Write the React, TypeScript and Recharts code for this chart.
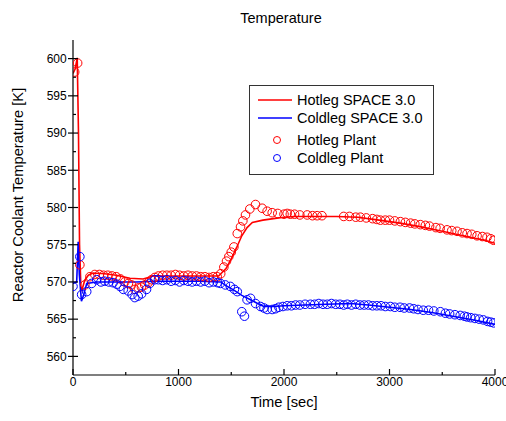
import { ComposedChart, Line, Scatter, XAxis, YAxis } from "recharts";

// axis ticks (minor ticks every 500 s / 2.5 K, labels only on the majors)
const xTicks = [0, 500, 1000, 1500, 2000, 2500, 3000, 3500, 4000];
const xLabels = [0, 1000, 2000, 3000, 4000];
const yTicks = [560, 562.5, 565, 567.5, 570, 572.5, 575, 577.5, 580, 582.5, 585, 587.5, 590, 592.5, 595, 597.5, 600];
const yLabels = [560, 565, 570, 575, 580, 585, 590, 595, 600];

// [time s, temperature K]
const hotlegSpace: [number, number][] = [
  [0, 598], [20, 598.6], [40, 600.1], [52, 590], [62, 575], [75, 569.2], [85, 568.9], [110, 570.2],
  [145, 570.9], [190, 571.2], [300, 571.1], [410, 570.9], [540, 570.5], [665, 570.4], [760, 570.8],
  [900, 570.8], [1000, 570.8], [1100, 570.8], [1200, 570.8], [1300, 570.8], [1380, 570.8],
  [1450, 571.8], [1500, 573.1], [1550, 574.6], [1600, 576.2], [1650, 577.3], [1700, 578.0],
  [1800, 578.3], [1900, 578.5], [2000, 578.7], [2100, 578.8], [2300, 578.8], [2500, 578.8],
  [2700, 578.7], [2900, 578.3], [3100, 577.9], [3300, 577.4], [3500, 576.8], [3700, 576.2],
  [3900, 575.6], [4000, 575.2],
];

const coldlegSpace: [number, number][] = [
  [0, 569.8], [35, 570], [49, 575.4], [60, 571], [80, 567.4], [100, 568.2], [130, 569.8], [222, 570],
  [400, 570.0], [600, 570.0], [800, 570.1], [1000, 570.1], [1200, 570.1], [1400, 570.0], [1450, 569.5],
  [1525, 568.9], [1600, 568.2], [1683, 567.6], [1750, 567.1], [1809, 566.7], [1900, 566.7],
  [2000, 566.8], [2200, 566.9], [2400, 567.0], [2630, 567.1], [2800, 566.9], [3000, 566.6],
  [3200, 566.3], [3400, 565.9], [3600, 565.4], [3800, 564.9], [4000, 564.3],
];

const hotlegPlant: [number, number][] = [
  [16, 598.2], [44, 599.4], [65, 572.3], [112, 569.6], [160, 570.7], [207, 571.0], [250, 571.0],
  [290, 570.9], [330, 570.9], [370, 570.8], [410, 570.7], [450, 570.4], [490, 570.0], [525, 569.8],
  [555, 569.6], [586, 569.0], [620, 569.2], [649, 569.3], [680, 569.6], [713, 569.9], [745, 570.3],
  [775, 570.6], [810, 570.8], [850, 570.9], [890, 570.9], [930, 570.9], [970, 571.0], [1010, 570.9],
  [1050, 570.8], [1090, 570.9], [1130, 570.8], [1170, 570.8], [1210, 570.7], [1250, 570.7],
  [1290, 570.6], [1330, 570.7], [1367, 570.7], [1400, 571.1], [1430, 572.0], [1455, 572.8],
  [1477, 573.4], [1500, 574.0], [1525, 574.7], [1557, 576.5], [1588, 577.4], [1610, 578.2],
  [1635, 579.0], [1676, 579.8], [1730, 580.4], [1793, 579.9], [1840, 579.5], [1888, 579.3],
  [1941, 579.2], [2000, 579.1], [2030, 579.2], [2060, 579.1], [2100, 579.1], [2150, 579.0],
  [2220, 579.0], [2270, 578.9], [2314, 578.9], [2360, 578.9], [2566, 578.8], [2620, 578.8],
  [2680, 578.7], [2724, 578.7], [2780, 578.6], [2840, 578.5], [2880, 578.4], [2914, 578.3],
  [2960, 578.3], [3000, 578.3], [3050, 578.2], [3103, 578.1], [3150, 578.0], [3200, 577.9],
  [3240, 577.8], [3292, 577.7], [3340, 577.6], [3380, 577.5], [3440, 577.3], [3480, 577.2],
  [3545, 577.0], [3590, 576.9], [3640, 576.8], [3690, 576.6], [3735, 576.5], [3780, 576.4],
  [3830, 576.2], [3880, 576.1], [3924, 576.0], [3960, 575.8], [3987, 575.6],
];

const coldlegPlant: [number, number][] = [
  [0, 569.4], [65, 573.4], [82, 568.3], [130, 568.7], [177, 569.8], [225, 570.3], [265, 570.0],
  [300, 570.1], [340, 570.0], [380, 569.9], [415, 569.7], [445, 569.4], [477, 569.0], [523, 568.8],
  [560, 568.3], [586, 567.9], [618, 568.1], [650, 568.4], [697, 569.0], [728, 569.8], [775, 570.3],
  [810, 570.3], [850, 570.2], [890, 570.3], [930, 570.1], [970, 570.2], [1010, 570.0], [1050, 570.2],
  [1090, 570.1], [1130, 570.0], [1170, 570.1], [1210, 570.0], [1250, 570.1], [1290, 569.9],
  [1330, 570.0], [1370, 569.9], [1397, 569.8], [1444, 569.6], [1491, 569.4], [1530, 569.0],
  [1557, 568.7], [1600, 566.0], [1625, 565.4], [1650, 567.6], [1683, 567.8], [1730, 567.1],
  [1778, 566.7], [1810, 566.5], [1840, 566.3], [1888, 566.3], [1920, 566.4], [1951, 566.6],
  [1990, 566.7], [2030, 566.8], [2070, 566.8], [2110, 566.9], [2150, 566.9], [2200, 567.0],
  [2250, 567.0], [2290, 567.0], [2330, 567.1], [2370, 567.0], [2410, 567.0], [2450, 567.1],
  [2490, 567.0], [2530, 567.0], [2566, 566.9], [2600, 567.0], [2640, 566.9], [2680, 567.0],
  [2720, 566.9], [2760, 566.9], [2800, 566.9], [2840, 566.8], [2880, 566.8], [2920, 566.8],
  [2960, 566.7], [3008, 566.7], [3050, 566.6], [3100, 566.6], [3140, 566.5], [3190, 566.5],
  [3229, 566.4], [3270, 566.3], [3320, 566.2], [3370, 566.2], [3420, 566.1], [3482, 566.0],
  [3530, 565.8], [3570, 565.7], [3620, 565.6], [3670, 565.5], [3710, 565.4], [3735, 565.3],
  [3770, 565.2], [3810, 565.1], [3850, 565.0], [3890, 564.9], [3930, 564.7], [3960, 564.6],
  [3987, 564.5],
];

const RED = "#ff0000";
const BLUE = "#0000ff";
const FONT = '"Liberation Sans", Arial, sans-serif';

const toPoints = (rows: [number, number][]) => rows.map(([t, v]) => ({ t, v }));

function BottomTick({ x, y, payload }: any) {
  const major = xLabels.includes(payload.value);
  return (
    <g>
      <line x1={x} x2={x} y1={y} y2={y - (major ? 6 : 3)} stroke="#000" strokeWidth={1.2} />
      {major && (
        <text x={x} y={y + 10.5} textAnchor="middle" fontSize={12} fontFamily={FONT} fill="#000">
          {payload.value}
        </text>
      )}
    </g>
  );
}

function TopTick({ x, y, payload }: any) {
  const major = xLabels.includes(payload.value);
  return <line x1={x} x2={x} y1={y} y2={y + (major ? 5 : 3)} stroke="#000" strokeWidth={1.2} />;
}

function LeftTick({ x, y, payload }: any) {
  const major = yLabels.includes(payload.value);
  return (
    <g>
      <line x1={major ? x - 5 : x} x2={x + (major ? 5 : 3)} y1={y} y2={y} stroke="#000" strokeWidth={1.2} />
      {major && (
        <text x={x - 6.3} y={y + 4.3} textAnchor="end" fontSize={12} fontFamily={FONT} fill="#000">
          {payload.value}
        </text>
      )}
    </g>
  );
}

function RightTick({ x, y }: any) {
  return <line x1={x - 3} x2={x} y1={y} y2={y} stroke="#000" strokeWidth={1.2} />;
}

const ring = (color: string) => (p: any) =>
  <circle cx={p.cx} cy={p.cy} r={4.3} fill="none" stroke={color} strokeWidth={1} />;

function Overlay() {
  return (
    <svg width={506} height={421} style={{ position: "absolute", left: 0, top: 0, pointerEvents: "none" }}>
      <text x={281} y={23} textAnchor="middle" fontSize={14.5} fontFamily={FONT} fill="#000">Temperature</text>
      <text x={284} y={407} textAnchor="middle" fontSize={14.7} fontFamily={FONT} fill="#000">Time [sec]</text>
      <text transform="translate(22.5,195) rotate(-90)" textAnchor="middle" fontSize={14.7} fontFamily={FONT} fill="#000">
        Reactor Coolant Temperature [K]
      </text>
      <rect x={249.5} y={85.5} width={184} height={89} fill="#fff" stroke="#333" strokeWidth={1} />
      <line x1={258} x2={292} y1={100} y2={100} stroke={RED} strokeWidth={1.5} />
      <line x1={258} x2={292} y1={118} y2={118} stroke={BLUE} strokeWidth={1.5} />
      <circle cx={277} cy={140} r={3.5} fill="none" stroke={RED} />
      <circle cx={277} cy={158} r={3.5} fill="none" stroke={BLUE} />
      <g fontSize={14.5} fontFamily={FONT} fill="#000">
        <text x={297} y={105}>Hotleg SPACE 3.0</text>
        <text x={297} y={123.3}>Coldleg SPACE 3.0</text>
        <text x={297} y={145}>Hotleg Plant</text>
        <text x={297} y={163.3}>Coldleg Plant</text>
      </g>
    </svg>
  );
}

export default function App() {
  return (
    <div style={{ position: "absolute", left: 0, top: 0, width: 506, height: 421, background: "#fff" }}>
      <ComposedChart width={506} height={421} margin={{ top: 40, right: 11, bottom: 0, left: 0 }}>
        <XAxis
          xAxisId="b" type="number" dataKey="t" domain={[0, 4000]} ticks={xTicks} interval={0}
          allowDataOverflow height={46} tickSize={0} tickMargin={0} tickLine={false}
          tick={<BottomTick />} axisLine={{ stroke: "#000", strokeWidth: 1.2 }}
        />
        <XAxis
          xAxisId="top" orientation="top" type="number" dataKey="t" domain={[0, 4000]} ticks={xTicks}
          interval={0} allowDataOverflow height={0} tickSize={0} tickMargin={0} tickLine={false}
          tick={<TopTick />} axisLine={{ stroke: "#000", strokeWidth: 1.2 }}
        />
        <YAxis
          yAxisId="l" type="number" dataKey="v" domain={[557.5, 602.5]} ticks={yTicks} interval={0}
          allowDataOverflow width={73} tickSize={0} tickMargin={0} tickLine={false}
          tick={<LeftTick />} axisLine={{ stroke: "#000", strokeWidth: 1.2 }}
        />
        <YAxis
          yAxisId="r" orientation="right" type="number" dataKey="v" domain={[557.5, 602.5]} ticks={yTicks}
          interval={0} allowDataOverflow width={0} tickSize={0} tickMargin={0} tickLine={false}
          tick={<RightTick />} axisLine={{ stroke: "#000", strokeWidth: 1.2 }}
        />
        <Scatter xAxisId="b" yAxisId="l" data={toPoints(hotlegPlant)} shape={ring(RED)} isAnimationActive={false} />
        <Scatter xAxisId="b" yAxisId="l" data={toPoints(coldlegPlant)} shape={ring(BLUE)} isAnimationActive={false} />
        <Line
          xAxisId="b" yAxisId="l" data={toPoints(hotlegSpace)} dataKey="v" type="linear" stroke={RED}
          strokeWidth={1.6} dot={false} isAnimationActive={false}
        />
        <Line
          xAxisId="b" yAxisId="l" data={toPoints(coldlegSpace)} dataKey="v" type="linear" stroke={BLUE}
          strokeWidth={1.6} dot={false} isAnimationActive={false}
        />
      </ComposedChart>
      <Overlay />
    </div>
  );
}
